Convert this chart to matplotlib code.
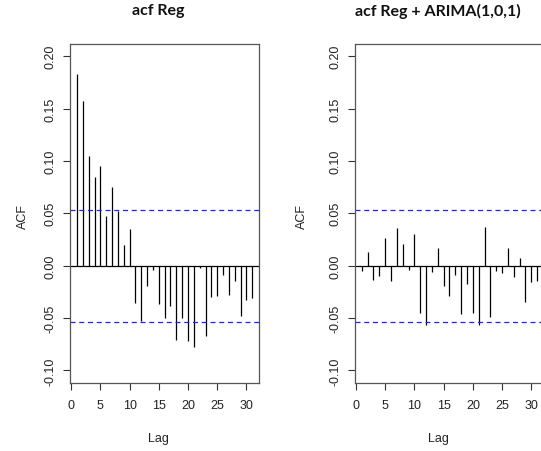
import matplotlib
matplotlib.use("Agg")
import matplotlib.pyplot as plt
import numpy as np

# acf values (lags 1..31)
lags = np.arange(1, 32)
acf_reg = [0.183, 0.157, 0.105, 0.085, 0.095, 0.047, 0.075, 0.052, 0.020, 0.035,
           -0.036, -0.053, -0.019, -0.004, -0.037, -0.050, -0.038, -0.071, -0.050, -0.072,
           -0.078, -0.002, -0.067, -0.030, -0.029, -0.009, -0.028, -0.015, -0.048, -0.033,
           -0.031]
acf_arima = [-0.005, 0.013, -0.014, -0.010, 0.026, -0.015, 0.036, 0.021, -0.004, 0.030,
             -0.045, -0.057, -0.006, 0.017, -0.019, -0.029, -0.009, -0.046, -0.017, -0.045,
             -0.057, 0.037, -0.049, -0.005, -0.007, 0.017, -0.011, 0.007, -0.035, -0.016,
             -0.015]
conf_limit = 0.0535
titles = ["acf Reg", "acf Reg + ARIMA(1,0,1)"]
yticks = [-0.10, -0.05, 0.00, 0.05, 0.10, 0.15, 0.20]
xticks = [0, 5, 10, 15, 20, 25, 30]

W, H = 541, 452
fig = plt.figure(figsize=(W / 100, H / 100), dpi=100)

label_font = "Liberation Sans"
text_col = "#222222"

# panel geometry in pixels (left edge of box, top, bottom)
panels = [(70.0, acf_reg, 158, 22.5), (354.8, acf_arima, 438, 302)]
box_w = 189.3
top, bottom = 44.7, 384.0

for (x0, vals, title_x, ylab_x), title in zip(panels, titles):
    ax = fig.add_axes([x0 / W, (H - bottom) / H, box_w / W, (bottom - top) / H])
    ax.vlines(lags, 0, vals, color="black", linewidth=0.9)
    ax.axhline(0, color="black", linewidth=0.9)
    ax.axhline(conf_limit, color="#2020ff", linestyle=(0, (4, 3)), linewidth=0.9)
    ax.axhline(-conf_limit, color="#2020ff", linestyle=(0, (4, 3)), linewidth=0.9)
    ax.set_xlim(-0.2, 32.2)
    ax.set_ylim(-0.112, 0.212)
    ax.set_xticks(xticks)
    ax.set_yticks(yticks)
    ax.set_yticklabels(["%.2f" % v for v in yticks], rotation=90, va="center")
    ax.tick_params(length=4.7, width=0.8, color="#333333", labelsize=9,
                   labelcolor=text_col)
    ax.tick_params(axis="x", pad=7)
    ax.tick_params(axis="y", pad=5)
    for lab in ax.get_xticklabels() + ax.get_yticklabels():
        lab.set_fontfamily(label_font)
    for sp in ax.spines.values():
        sp.set_color("#555555")
        sp.set_linewidth(0.9)

    fig.text(title_x / W, 1 - 11 / H, title, ha="center", va="center",
             fontsize=11.5, fontweight="bold", family="Lato", color="#111111")
    fig.text((title_x) / W, 1 - 439 / H, "Lag", ha="center", va="center",
             fontsize=9, family=label_font, color=text_col)
    fig.text(ylab_x / W, 1 - 216.7 / H, "ACF", ha="center", va="center",
             rotation=90, fontsize=9, family=label_font, color=text_col)

fig.savefig("out.png", dpi=100, facecolor="white")
